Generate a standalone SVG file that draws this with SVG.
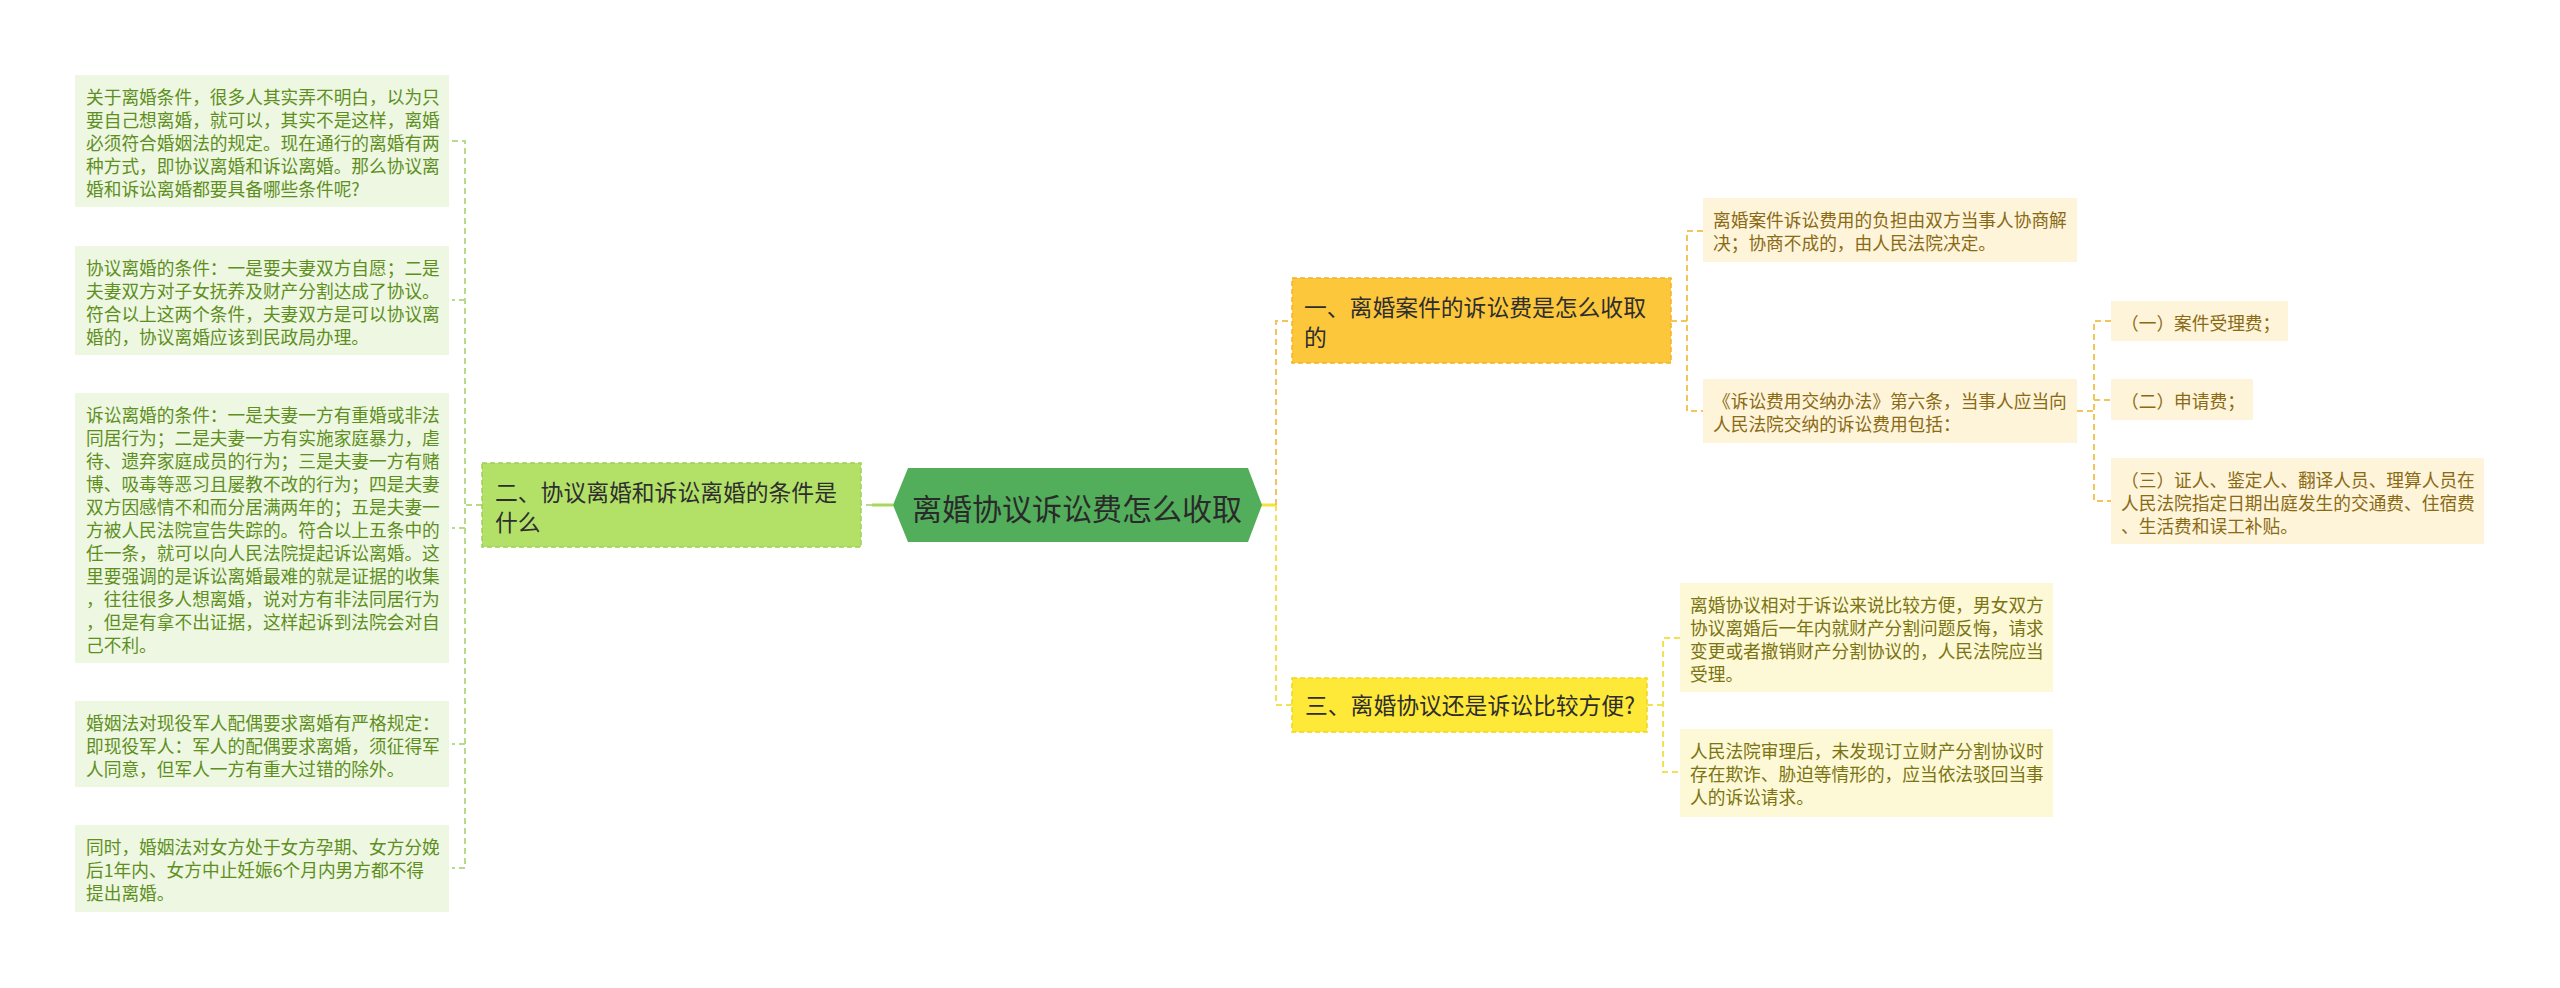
<svg xmlns="http://www.w3.org/2000/svg" width="2560" height="988" viewBox="0 0 2560 988">
<style>
text{font-family:"Noto Sans CJK SC","Noto Sans",sans-serif}
.leaf{font-size:17.7px}
.lg{fill:#5e8f1e}
.lo{fill:#8a6a14}
.ly{fill:#7b7412}
.br{font-size:22.8px;fill:#2e2e2e}
.bg{fill:#eef7e2}
.bo{fill:#fdf4da}
.by{fill:#fdf8d5}
.c{fill:none;stroke-width:2;stroke-dasharray:6 4}
.cg{stroke:#b7da8e}
.co{stroke:#f1c55a}
.cy{stroke:#f2e150}
</style>
<rect width="2560" height="988" fill="#ffffff"/>
<g id="connectors">
<line x1="893" y1="505" x2="872" y2="505" stroke="#a6d85c" stroke-width="3"/>
<line class="c cg" x1="872" y1="505" x2="861" y2="505"/>
<path class="c cg" d="M482,505 H465 M452,141 H465 V868 H452 M465,300 H452 M465,528 H452 M465,744 H452"/>
<line x1="1261" y1="505" x2="1276" y2="505" stroke="#f5e23a" stroke-width="3"/>
<path class="c co" d="M1276,505 V321 H1292"/>
<path class="c cy" d="M1276,505 V705 H1292"/>
<path class="c co" d="M1671,321 H1687 M1703,231 H1687 V411 H1703"/>
<path class="c co" d="M2077,411 H2094 M2111,321 H2094 V501 H2111 M2094,400 H2111"/>
<path class="c cy" d="M1647,705 H1663 M1680,638 H1663 V772 H1680"/>
</g>
<g id="root">
<polygon points="893,505 908,468 1248,468 1262,505 1248,542 908,542" fill="#53ae5b"/>
<text x="1077" y="520" text-anchor="middle" font-size="30" fill="#2a2a2a">离婚协议诉讼费怎么收取</text>
</g>
<g id="branch2">
<rect x="482" y="463" width="379" height="84" fill="#b3e168" stroke="#9ecf52" stroke-width="1.5" stroke-dasharray="5 3"/>
<text class="br" x="495"><tspan x="495" y="501">二、协议离婚和诉讼离婚的条件是</tspan><tspan x="495" y="531">什么</tspan></text>
</g>
<g id="branch1">
<rect x="1292" y="278" width="379" height="85" fill="#fdc73c" stroke="#f2b324" stroke-width="1.5" stroke-dasharray="5 3"/>
<text class="br" x="1304"><tspan x="1304" y="316">一、离婚案件的诉讼费是怎么收取</tspan><tspan x="1304" y="346">的</tspan></text>
</g>
<g id="branch3">
<rect x="1292" y="678" width="355" height="54" fill="#fee838" stroke="#f0d51c" stroke-width="1.5" stroke-dasharray="5 3"/>
<text class="br" x="1305" y="714">三、离婚协议还是诉讼比较方便?</text>
</g>
<g id="leaf-g1">
<rect class="bg" x="75" y="75" width="374" height="132"/>
<text class="leaf lg"><tspan x="86" y="104">关于离婚条件，很多人其实弄不明白，以为只</tspan><tspan x="86" y="127">要自己想离婚，就可以，其实不是这样，离婚</tspan><tspan x="86" y="150">必须符合婚姻法的规定。现在通行的离婚有两</tspan><tspan x="86" y="173">种方式，即协议离婚和诉讼离婚。那么协议离</tspan><tspan x="86" y="196">婚和诉讼离婚都要具备哪些条件呢?</tspan></text>
</g>
<g id="leaf-g2">
<rect class="bg" x="75" y="246" width="374" height="109"/>
<text class="leaf lg"><tspan x="86" y="275">协议离婚的条件：一是要夫妻双方自愿；二是</tspan><tspan x="86" y="298">夫妻双方对子女抚养及财产分割达成了协议。</tspan><tspan x="86" y="321">符合以上这两个条件，夫妻双方是可以协议离</tspan><tspan x="86" y="344">婚的，协议离婚应该到民政局办理。</tspan></text>
</g>
<g id="leaf-g3">
<rect class="bg" x="75" y="393" width="374" height="270"/>
<text class="leaf lg"><tspan x="86" y="422">诉讼离婚的条件：一是夫妻一方有重婚或非法</tspan><tspan x="86" y="445">同居行为；二是夫妻一方有实施家庭暴力，虐</tspan><tspan x="86" y="468">待、遗弃家庭成员的行为；三是夫妻一方有赌</tspan><tspan x="86" y="491">博、吸毒等恶习且屡教不改的行为；四是夫妻</tspan><tspan x="86" y="514">双方因感情不和而分居满两年的；五是夫妻一</tspan><tspan x="86" y="537">方被人民法院宣告失踪的。符合以上五条中的</tspan><tspan x="86" y="560">任一条，就可以向人民法院提起诉讼离婚。这</tspan><tspan x="86" y="583">里要强调的是诉讼离婚最难的就是证据的收集</tspan><tspan x="86" y="606">，往往很多人想离婚，说对方有非法同居行为</tspan><tspan x="86" y="629">，但是有拿不出证据，这样起诉到法院会对自</tspan><tspan x="86" y="652">己不利。</tspan></text>
</g>
<g id="leaf-g4">
<rect class="bg" x="75" y="701" width="374" height="86"/>
<text class="leaf lg"><tspan x="86" y="730">婚姻法对现役军人配偶要求离婚有严格规定：</tspan><tspan x="86" y="753">即现役军人：军人的配偶要求离婚，须征得军</tspan><tspan x="86" y="776">人同意，但军人一方有重大过错的除外。</tspan></text>
</g>
<g id="leaf-g5">
<rect class="bg" x="75" y="825" width="374" height="87"/>
<text class="leaf lg"><tspan x="86" y="854">同时，婚姻法对女方处于女方孕期、女方分娩</tspan><tspan x="86" y="877">后1年内、女方中止妊娠6个月内男方都不得</tspan><tspan x="86" y="900">提出离婚。</tspan></text>
</g>
<g id="leaf-o1">
<rect class="bo" x="1703" y="198" width="374" height="64"/>
<text class="leaf lo"><tspan x="1713" y="227">离婚案件诉讼费用的负担由双方当事人协商解</tspan><tspan x="1713" y="250">决；协商不成的，由人民法院决定。</tspan></text>
</g>
<g id="leaf-o2">
<rect class="bo" x="1703" y="379" width="374" height="64"/>
<text class="leaf lo"><tspan x="1713" y="408">《诉讼费用交纳办法》第六条，当事人应当向</tspan><tspan x="1713" y="431">人民法院交纳的诉讼费用包括：</tspan></text>
</g>
<g id="leaf-o2a">
<rect class="bo" x="2111" y="301" width="177" height="40"/>
<text class="leaf lo" x="2121" y="330">（一）案件受理费；</text>
</g>
<g id="leaf-o2b">
<rect class="bo" x="2111" y="379" width="142" height="41"/>
<text class="leaf lo" x="2121" y="408">（二）申请费；</text>
</g>
<g id="leaf-o2c">
<rect class="bo" x="2111" y="458" width="373" height="86"/>
<text class="leaf lo"><tspan x="2121" y="487">（三）证人、鉴定人、翻译人员、理算人员在</tspan><tspan x="2121" y="510">人民法院指定日期出庭发生的交通费、住宿费</tspan><tspan x="2121" y="533">、生活费和误工补贴。</tspan></text>
</g>
<g id="leaf-y1">
<rect class="by" x="1680" y="583" width="373" height="109"/>
<text class="leaf ly"><tspan x="1690" y="612">离婚协议相对于诉讼来说比较方便，男女双方</tspan><tspan x="1690" y="635">协议离婚后一年内就财产分割问题反悔，请求</tspan><tspan x="1690" y="658">变更或者撤销财产分割协议的，人民法院应当</tspan><tspan x="1690" y="681">受理。</tspan></text>
</g>
<g id="leaf-y2">
<rect class="by" x="1680" y="729" width="373" height="88"/>
<text class="leaf ly"><tspan x="1690" y="758">人民法院审理后，未发现订立财产分割协议时</tspan><tspan x="1690" y="781">存在欺诈、胁迫等情形的，应当依法驳回当事</tspan><tspan x="1690" y="804">人的诉讼请求。</tspan></text>
</g>
</svg>
